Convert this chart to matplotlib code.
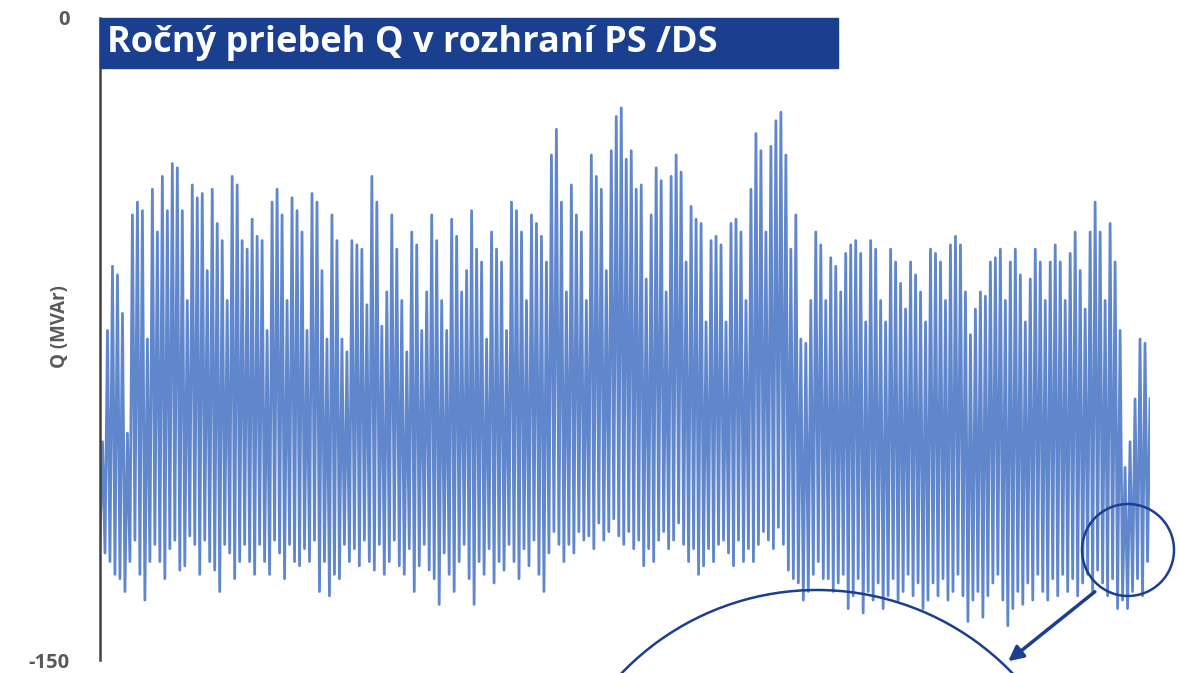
import numpy as np
import matplotlib.pyplot as plt
from matplotlib.patches import Rectangle, Ellipse, Arc, FancyArrowPatch

# daily maxima (least negative) and minima of Q, MVAr in order
q_peaks = [-99, -73, -58, -60, -69, -97, -46, -43, -45, -75,
           -40, -50, -37, -45, -34, -35, -45, -66, -39, -42,
           -41, -59, -40, -48, -52, -66, -37, -39, -52, -54,
           -47, -51, -52, -73, -43, -40, -46, -66, -42, -45,
           -50, -73, -41, -43, -59, -75, -46, -52, -75, -78,
           -52, -53, -54, -67, -37, -43, -72, -64, -46, -54,
           -66, -78, -50, -53, -73, -64, -46, -52, -66, -73,
           -47, -51, -64, -59, -45, -54, -57, -75, -50, -54,
           -57, -73, -43, -45, -50, -66, -46, -48, -51, -57,
           -32, -26, -43, -64, -39, -46, -50, -66, -32, -37,
           -40, -59, -31, -23, -21, -33, -31, -40, -39, -61,
           -46, -35, -38, -64, -37, -32, -36, -57, -44, -47,
           -48, -71, -52, -51, -53, -71, -48, -47, -50, -66,
           -40, -27, -31, -50, -30, -24, -22, -32, -54, -46,
           -75, -76, -66, -50, -53, -66, -56, -58, -64, -55,
           -53, -52, -55, -71, -52, -54, -66, -71, -54, -57,
           -62, -68, -57, -60, -64, -71, -54, -55, -57, -66,
           -53, -51, -53, -64, -74, -68, -64, -65, -57, -56,
           -54, -66, -57, -54, -60, -71, -61, -54, -57, -66,
           -57, -53, -57, -66, -55, -50, -59, -68, -50, -43,
           -50, -66, -48, -57, -73, -105, -99, -89, -75, -76,
           -89]
q_troughs = [-122, -125, -127, -130, -131, -134, -127, -122, -130, -136,
             -127, -123, -127, -131, -124, -122, -129, -128, -121, -123,
             -130, -122, -127, -129, -134, -123, -125, -131, -127, -123,
             -127, -130, -123, -127, -130, -122, -125, -131, -123, -127,
             -128, -124, -127, -122, -134, -127, -135, -130, -131, -123,
             -127, -124, -128, -122, -127, -129, -123, -130, -127, -122,
             -128, -130, -124, -134, -128, -123, -129, -131, -137, -125,
             -130, -134, -127, -123, -131, -137, -127, -130, -124, -132,
             -127, -129, -123, -127, -131, -124, -128, -122, -130, -134,
             -125, -120, -123, -127, -123, -125, -120, -122, -121, -124,
             -118, -122, -120, -117, -121, -123, -120, -124, -122, -128,
             -124, -127, -122, -120, -124, -122, -118, -123, -127, -124,
             -130, -128, -124, -127, -123, -122, -125, -128, -122, -127,
             -124, -127, -123, -120, -122, -124, -119, -123, -129, -131,
             -132, -136, -134, -130, -127, -131, -131, -134, -132, -130,
             -138, -135, -131, -139, -134, -136, -132, -138, -135, -131,
             -136, -134, -130, -135, -132, -138, -136, -132, -135, -131,
             -136, -134, -130, -135, -141, -136, -134, -140, -135, -132,
             -130, -136, -142, -138, -134, -137, -132, -136, -130, -134,
             -136, -131, -135, -130, -134, -131, -135, -132, -130, -134,
             -129, -132, -135, -131, -138, -136, -138, -134, -131, -135,
             -127]

title = "Ročný priebeh Q v rozhraní PS /DS"
ylabel = "Q (MVAr)"
y_ticks = [0, -150]

# line goes trough -> peak -> trough ... over the year
q = np.ravel(np.column_stack([q_troughs, q_peaks]))
t = np.arange(len(q))

W, H = 1179, 673
fig = plt.figure(figsize=(W / 100, H / 100), dpi=100)
ax = fig.add_axes([100 / W, 13 / H, 1050 / W, 642 / H])

ax.plot(t, q, color="#4472C4", lw=2.0, alpha=0.85)
ax.set_xlim(0, len(q) - 1)
ax.set_ylim(-150, 0)

for s in ["top", "right", "bottom"]:
    ax.spines[s].set_visible(False)
ax.spines["left"].set_color("#404040")
ax.spines["left"].set_linewidth(1.8)
ax.set_xticks([])
ax.set_yticks(y_ticks)
ax.set_yticklabels([str(v) for v in y_ticks])
ax.tick_params(axis="y", length=0, pad=22, labelsize=14.5, labelcolor="#595959")
for lab in ax.get_yticklabels():
    lab.set_fontweight("bold")
    lab.set_fontfamily("Open Sans")
fig.text(60 / W, (H - 327) / H, ylabel, rotation=90, fontsize=13.5, fontweight="bold",
         color="#595959", family="Open Sans", ha="center", va="center")

navy = "#1B3F8F"
# title banner
fig.add_artist(Rectangle((100 / W, (H - 68) / H), 738 / W, 50 / H,
                         transform=fig.transFigure, color=navy, zorder=5))
fig.text(107 / W, (H - 43) / H, title, color="white", fontsize=26,
         fontweight="bold", family="Open Sans", va="center", ha="left", zorder=6)

# zoom circle, arrow and the big arc of the inset
fig.add_artist(Ellipse((1128 / W, (H - 550) / H), 92 / W, 92 / H,
                       transform=fig.transFigure, fill=False, ec=navy, lw=1.8, zorder=6))
fig.add_artist(Arc((817 / W, (H - 861) / H), 542 / W, 542 / H, theta1=30, theta2=150,
                   transform=fig.transFigure, ec=navy, lw=1.8, zorder=6))
fig.add_artist(FancyArrowPatch((1097 / W, (H - 590) / H), (1006 / W, (H - 663) / H),
                               transform=fig.transFigure, arrowstyle="-|>", mutation_scale=22,
                               color=navy, lw=2.5, zorder=6))

fig.savefig("out.png", dpi=100)
